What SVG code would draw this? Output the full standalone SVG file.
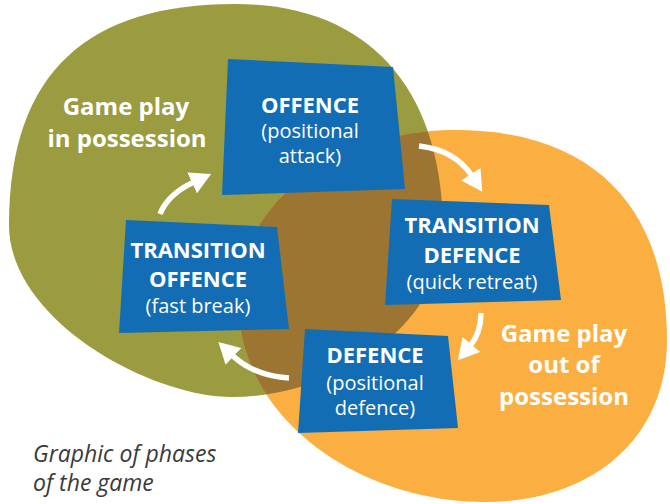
<svg xmlns="http://www.w3.org/2000/svg" width="670" height="504" viewBox="0 0 670 504">
<style>
.box{fill:#136db4}
.t{font-family:"Open Sans","Noto Sans",sans-serif;fill:#fff;text-anchor:middle}
.b{font-weight:bold;font-size:22px}
.r{font-size:20px}
.big{font-weight:bold;font-size:24px}
.cap{font-family:"Open Sans","Noto Sans",sans-serif;font-style:italic;font-size:23px;fill:#3a3a3a}
.arr{fill:none;stroke:#fff;stroke-width:5.5;marker-end:url(#ah)}
</style>
<defs>
<path id="olive" d="M235,4 C370,4 443,90 443,232 C443,325 335,397 232,397 C150,397 9,320 9,225 C9,70 90,4 235,4 Z"/>
<path id="orange" d="M455,130 C600,130 667,215 667,340 C667,440 590,502 485,502 C360,502 238,420 238,300 C238,200 340,130 455,130 Z"/>
<clipPath id="oc"><use href="#olive"/></clipPath>
<marker id="ah" viewBox="0 0 20 22" refX="2" refY="11" markerWidth="21" markerHeight="23" markerUnits="userSpaceOnUse" orient="auto">
<path d="M0,0 L20,11 L0,22 Z" fill="#fff"/>
</marker>
</defs>
<g id="background">
<use href="#olive" fill="#9b9b40"/>
<use href="#orange" fill="#fbaf41"/>
<use href="#orange" fill="#9c7533" clip-path="url(#oc)"/>
</g>
<g id="label-in">
<text class="t big" x="126" y="115">Game play</text>
<text class="t big" x="127" y="147">in possession</text>
</g>
<g id="label-out">
<text class="t big" x="564" y="342">Game play</text>
<text class="t big" x="564" y="373">out of</text>
<text class="t big" x="564" y="405">possession</text>
</g>
<g id="connectors">
<path class="arr" d="M419,146 Q455,150 472,176"/>
<path class="arr" d="M481,313 Q481,333 470,346"/>
<path class="arr" d="M289,378 Q254,376 232,355"/>
<path class="arr" d="M160,214 Q168,194 194,182"/>
</g>
<g id="offence">
<polygon class="box" points="228,59 393,67 405,189 222,195"/>
<text class="t b" x="310" y="113">OFFENCE</text>
<text class="t r" x="310" y="138">(positional</text>
<text class="t r" x="310" y="163">attack)</text>
</g>
<g id="transition-defence">
<polygon class="box" points="392,199 549,205 561,300 385,305"/>
<text class="t b" x="472" y="233">TRANSITION</text>
<text class="t b" x="472" y="263">DEFENCE</text>
<text class="t r" x="472" y="289">(quick retreat)</text>
</g>
<g id="defence">
<polygon class="box" points="305,329 448,336 458,428 298,433"/>
<text class="t b" x="375" y="363">DEFENCE</text>
<text class="t r" x="375" y="390">(positional</text>
<text class="t r" x="375" y="415">defence)</text>
</g>
<g id="transition-offence">
<polygon class="box" points="126,220 277,227 289,329 119,333"/>
<text class="t b" x="198" y="258">TRANSITION</text>
<text class="t b" x="198" y="287">OFFENCE</text>
<text class="t r" x="198" y="313">(fast break)</text>
</g>
<g id="caption">
<text class="cap" x="33" y="462">Graphic of phases</text>
<text class="cap" x="33" y="491">of the game</text>
</g>
</svg>
